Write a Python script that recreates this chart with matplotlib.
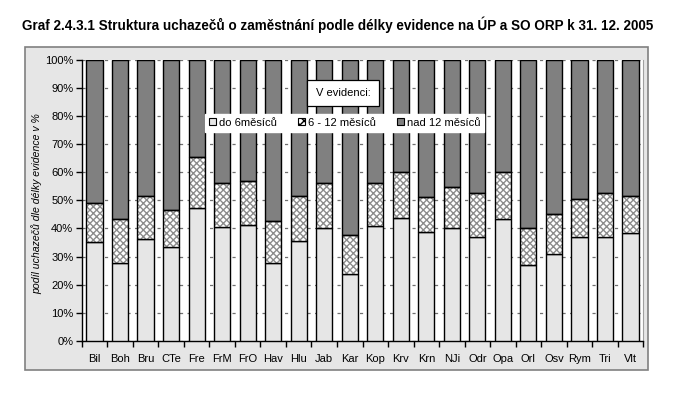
import numpy as np
import matplotlib
matplotlib.use("Agg")
import matplotlib.pyplot as plt
from matplotlib.patches import Patch, Rectangle
from matplotlib.ticker import FixedLocator, FuncFormatter

plt.rcParams['font.family'] = ['Liberation Sans', 'DejaVu Sans']

# data (%)
kategorie = ['Bil', 'Boh', 'Bru', 'CTe', 'Fre', 'FrM', 'FrO', 'Hav', 'Hlu', 'Jab', 'Kar',
             'Kop', 'Krv', 'Krn', 'NJi', 'Odr', 'Opa', 'Orl', 'Osv', 'Rym', 'Tri', 'Vlt']
do_6 = [35.0, 27.6, 36.4, 33.3, 47.1, 40.5, 41.2, 27.6, 35.4, 40.0, 23.7,
        40.7, 43.6, 38.6, 40.0, 36.8, 43.2, 26.9, 30.8, 36.8, 36.8, 38.2]
od_6_do_12 = [13.9, 15.6, 15.1, 13.4, 18.1, 15.8, 15.8, 14.9, 16.1, 16.0, 13.8,
              15.6, 16.6, 12.4, 14.7, 15.6, 16.7, 13.1, 14.2, 13.5, 15.6, 13.2]
nad_12 = [51.1, 56.8, 48.5, 53.3, 34.8, 43.7, 43.0, 57.5, 48.5, 44.0, 62.5,
          43.7, 39.8, 49.0, 45.3, 47.6, 40.1, 60.0, 55.0, 49.7, 47.6, 48.6]
legenda = ['do 6měsíců', '6 - 12 měsíců', 'nad 12 měsíců']

svetla = '#e6e6e6'
tmava = '#808080'

fig = plt.figure(figsize=(6.75, 3.93), dpi=100)

# sede pozadi grafu s ramem
fig.patches.append(Rectangle((25 / 675, 1 - 370 / 393), 623 / 675, 323 / 393,
                             transform=fig.transFigure, facecolor=svetla,
                             edgecolor='#808080', linewidth=1.2, zorder=-5))

ax = fig.add_axes([81.7 / 675, 1 - 341 / 393, 561.6 / 675, 281.5 / 393])
ax.set_facecolor('white')

x = np.arange(len(kategorie))
w = 0.63
a = np.array(do_6)
b = np.array(od_6_do_12)
c = np.array(nad_12)

ax.bar(x, a, w, color=svetla, edgecolor='black', linewidth=1, zorder=3)
# srafovani sedou, obrys zvlast cerne
ax.bar(x, b, w, bottom=a, color='white', edgecolor='#8c8c8c', hatch='xxxxx',
       linewidth=0, zorder=3)
ax.bar(x, b, w, bottom=a, fill=False, edgecolor='black', linewidth=1, zorder=4)
ax.bar(x, c, w, bottom=a + b, color=tmava, edgecolor='black', linewidth=1, zorder=3)

ax.set_xlim(-0.5, len(kategorie) - 0.5)
ax.set_ylim(0, 100)
ax.set_yticks(np.arange(0, 101, 10))
ax.yaxis.set_major_formatter(FuncFormatter(lambda v, p: f'{int(v)}%'))
ax.yaxis.grid(True, color='#707070', linestyle=(0, (2.5, 3.5)), linewidth=0.9, zorder=1)

ax.set_xticks(x)
ax.set_xticklabels(kategorie)
ax.xaxis.set_minor_locator(FixedLocator(np.arange(-0.5, len(kategorie), 1)))
ax.tick_params(axis='x', which='major', length=0, pad=9, labelsize=8)
ax.tick_params(axis='x', which='minor', length=4, direction='out', width=1)
ax.tick_params(axis='y', length=4, direction='out', width=1, labelsize=8, pad=2)

ax.spines['top'].set_visible(False)
ax.spines['right'].set_color('#a0a0a0')
ax.spines['left'].set_linewidth(1)
ax.spines['bottom'].set_linewidth(1)

ax.set_ylabel('podíl uchazečů dle délky evidence v %', fontsize=7.6, style='italic')
ax.yaxis.set_label_coords(-0.0705, 0.49)

fig.text(0.5, 1 - 25 / 393, 'Graf 2.4.3.1 Struktura uchazečů o zaměstnání podle délky evidence na ÚP a SO ORP k 31. 12. 2005',
         ha='center', va='center', fontsize=9.75, fontweight='bold')

# legenda
handles = [Patch(facecolor=svetla, edgecolor='black', linewidth=0.8),
           Patch(facecolor='white', edgecolor='black', hatch='xxxx', linewidth=0.8),
           Patch(facecolor=tmava, edgecolor='black', linewidth=0.8)]
leg = fig.legend(handles, legenda, ncol=3, loc='upper left',
                 bbox_to_anchor=(205 / 675, 1 - 114 / 393), fontsize=8,
                 frameon=True, fancybox=False, framealpha=1, edgecolor='white',
                 handlelength=0.6, handleheight=0.6, handletextpad=0.3,
                 columnspacing=1.9, borderpad=0.35, borderaxespad=0)
leg.set_zorder(10)

fig.text(343 / 675, 1 - 93 / 393, 'V evidenci:', ha='center', va='center', fontsize=8,
         zorder=11, bbox=dict(boxstyle='square,pad=0.75', facecolor='white',
                              edgecolor='black', linewidth=0.9))

fig.savefig('out.png', dpi=100)
